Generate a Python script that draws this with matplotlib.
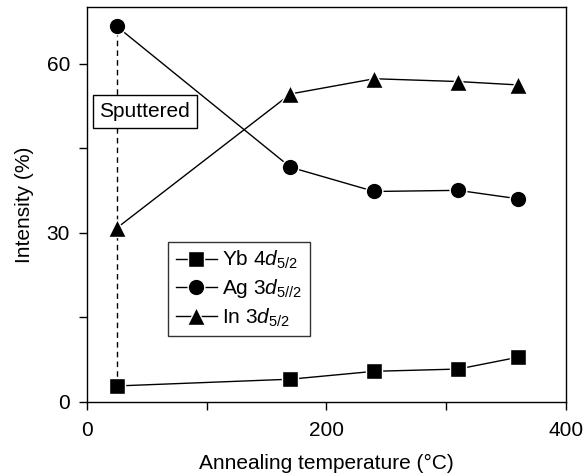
import matplotlib
matplotlib.use("Agg")
import matplotlib.pyplot as plt

# annealing temperature (deg C) and intensity (%)
temps = [25, 170, 240, 310, 360]
yb_vals = [2.8, 4.0, 5.4, 5.8, 7.9]
ag_vals = [66.6, 41.6, 37.3, 37.5, 36.0]
in_vals = [30.8, 54.6, 57.3, 56.8, 56.2]

labels = ["Yb 4$d_{5/2}$", "Ag 3$d_{5//2}$", "In 3$d_{5/2}$"]

plt.rcParams['font.family'] = ['Liberation Sans', 'DejaVu Sans']
plt.rcParams['mathtext.fontset'] = 'custom'
plt.rcParams['mathtext.rm'] = 'Liberation Sans'
plt.rcParams['mathtext.it'] = 'Liberation Sans:italic'

fs = 15

fig = plt.figure(figsize=(5.86, 4.76), dpi=100)
ax = fig.add_axes([0.148, 0.156, 0.818, 0.829])

# dashed line linking the sputtered points
ax.plot([temps[0], temps[0]], [yb_vals[0], ag_vals[0]], color='black',
        linestyle=(0, (4, 3)), linewidth=1.0, zorder=1)

style = dict(color='black', linewidth=1.0, mec='white', mew=1.0, zorder=3)
ax.plot(temps, yb_vals, marker='s', markersize=11, label=labels[0], **style)
ax.plot(temps, ag_vals, marker='o', markersize=12, label=labels[1], **style)
ax.plot(temps, in_vals, marker='^', markersize=13, label=labels[2], **style)

ax.text(48.5, 51.5, "Sputtered", fontsize=fs, ha='center', va='center',
        bbox=dict(boxstyle='square,pad=0.32', facecolor='white',
                  edgecolor='black', linewidth=1.0), zorder=4)

leg = ax.legend(loc='upper left', bbox_to_anchor=(0.17, 0.406), fontsize=fs,
                frameon=True, fancybox=False, edgecolor='black',
                handlelength=2.0, handletextpad=0.25, borderpad=0.35,
                labelspacing=0.3, borderaxespad=0)
leg.get_frame().set_linewidth(1.0)

ax.set_xlim(0, 400)
ax.set_ylim(0, 70)
ax.set_xticks([0, 100, 200, 300, 400])
ax.set_xticklabels(['0', '', '200', '', '400'])
ax.set_yticks([0, 15, 30, 45, 60])
ax.set_yticklabels(['0', '', '30', '', '60'])
ax.tick_params(direction='out', length=6, width=1.0, labelsize=fs, pad=6)
ax.tick_params(axis='x', pad=8)
for s in ax.spines.values():
    s.set_linewidth(1.0)

ax.set_xlabel("Annealing temperature (\u00b0C)", fontsize=fs, labelpad=10)
ax.set_ylabel("Intensity (%)", fontsize=fs, labelpad=9)

fig.savefig("out.png", dpi=100)
